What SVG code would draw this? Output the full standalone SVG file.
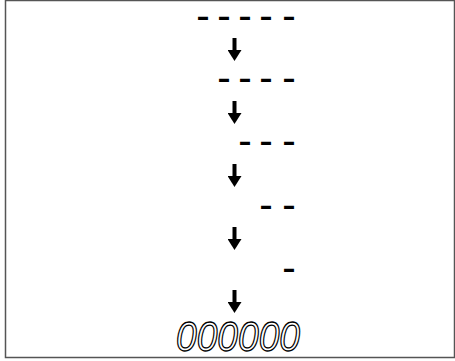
<svg xmlns="http://www.w3.org/2000/svg" width="455" height="361" viewBox="0 0 455 361">
<defs>
<style>
.dash{font-family:"Liberation Sans",Arial,sans-serif;font-weight:bold;font-size:28px;fill:#000;}
.digits{font-family:"Liberation Sans",Arial,sans-serif;font-style:italic;font-size:42px;fill:#fff;stroke:#000;stroke-width:1.3;}
.arrow{stroke:#000;stroke-width:4;fill:none;}
</style>
<marker id="ah" viewBox="0 0 11 14" markerWidth="11" markerHeight="14" refX="1" refY="7" orient="auto" markerUnits="userSpaceOnUse">
<path d="M0,0 L11,7 L0,14 z" fill="#000"/>
</marker>
</defs>
<rect width="455" height="361" fill="#fff"/>
<rect x="5.5" y="0.5" width="449" height="357" fill="none" stroke="#555" stroke-width="1.5"/>
<g id="row1" transform="scale(1.4,1)"><text class="dash" x="140.3 155.3 170.3 185.3 201.7" y="26.1">-----</text></g>
<g id="row2" transform="scale(1.4,1)"><text class="dash" x="155.3 170.3 185.3 201.7" y="88.1">----</text></g>
<g id="row3" transform="scale(1.4,1)"><text class="dash" x="170.3 185.3 201.7" y="151.1">---</text></g>
<g id="row4" transform="scale(1.4,1)"><text class="dash" x="185.3 201.7" y="215.1">--</text></g>
<g id="row5" transform="scale(1.4,1)"><text class="dash" x="201.7" y="278.1">-</text></g>
<g id="display"><text class="digits" x="176" y="351" textLength="124" lengthAdjust="spacingAndGlyphs">000000</text></g>
<g id="connectors">
<line class="arrow" x1="234.5" y1="38" x2="234.5" y2="51" marker-end="url(#ah)"/>
<line class="arrow" x1="234.5" y1="101" x2="234.5" y2="114" marker-end="url(#ah)"/>
<line class="arrow" x1="234.5" y1="164" x2="234.5" y2="177" marker-end="url(#ah)"/>
<line class="arrow" x1="234.5" y1="227" x2="234.5" y2="240" marker-end="url(#ah)"/>
<line class="arrow" x1="234.5" y1="290" x2="234.5" y2="303" marker-end="url(#ah)"/>
</g>
</svg>
